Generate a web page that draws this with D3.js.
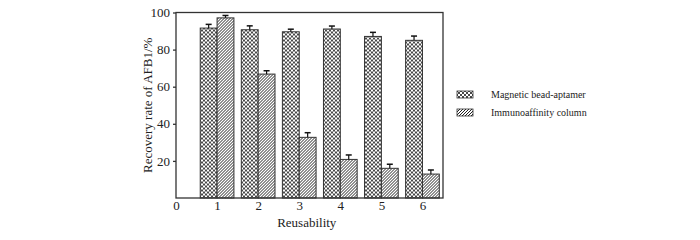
<!DOCTYPE html>
<html>
<head>
<meta charset="utf-8">
<script src="https://cdn.jsdelivr.net/npm/d3@7"></script>
<style>
  body { margin: 0; background: #fff; }
  svg { display: block; }
  text { font-family: "Liberation Serif", "Times New Roman", serif; fill: #222; }
</style>
</head>
<body>
<div id="chart"></div>
<script>
// reuse cycles
let cycles = [1, 2, 3, 4, 5, 6];
let xTicks = [0, 1, 2, 3, 4, 5, 6];
let yTicks = [20, 40, 60, 80, 100];
let seriesNames = ["Magnetic bead-aptamer", "Immunoaffinity column"];
let magnetic = [91.6, 90.7, 89.6, 91.1, 87.1, 85.0];
let magneticErr = [2.0, 2.1, 1.4, 1.6, 2.2, 2.3];
let immuno = [97.1, 66.8, 32.7, 20.8, 16.0, 12.9];
let immunoErr = [1.3, 1.8, 2.5, 2.4, 2.2, 2.2];

let margin = {top: 12.5, right: 257, bottom: 42, left: 176},
    width = 700 - margin.left - margin.right,
    height = 240 - margin.top - margin.bottom;

let svg = d3.select("#chart").append("svg")
    .attr("width", 700)
    .attr("height", 240);

let defs = svg.append("defs");
let cross = defs.append("pattern")
    .attr("id", "cross")
    .attr("patternUnits", "userSpaceOnUse")
    .attr("width", 4).attr("height", 4);
cross.append("rect").attr("width", 4).attr("height", 4).attr("fill", "#fff");
cross.append("path").attr("d", "M0,0 L4,4 M4,0 L0,4 M-1,1 L1,-1 M3,5 L5,3 M-1,3 L1,5 M3,-1 L5,1")
    .attr("stroke", "#333").attr("stroke-width", 0.9);

let hatch = defs.append("pattern")
    .attr("id", "hatch")
    .attr("patternUnits", "userSpaceOnUse")
    .attr("width", 3).attr("height", 3);
hatch.append("rect").attr("width", 3).attr("height", 3).attr("fill", "#fff");
hatch.append("path").attr("d", "M-1,1 L1,-1 M0,3 L3,0 M2,4 L4,2")
    .attr("stroke", "#222").attr("stroke-width", 1);

let g = svg.append("g")
    .attr("transform", "translate(" + margin.left + "," + margin.top + ")");

let x = d3.scaleLinear().domain([0, 6.5]).range([0, width]);
let y = d3.scaleLinear().domain([0, 100]).range([height, 0]);
let barW = x(0.41) - x(0);

let data = cycles.map(function (c, i) {
    return {c: c, m: magnetic[i], me: magneticErr[i], im: immuno[i], ie: immunoErr[i]};
});

// bars
let groups = g.selectAll(".pair")
    .data(data)
    .enter().append("g")
    .attr("class", "pair");

groups.append("rect")
    .attr("x", function (d) { return x(d.c) - barW; })
    .attr("y", function (d) { return y(d.m); })
    .attr("width", barW)
    .attr("height", function (d) { return height - y(d.m); })
    .attr("fill", "url(#cross)")
    .attr("stroke", "#333").attr("stroke-width", 1);

groups.append("rect")
    .attr("x", function (d) { return x(d.c); })
    .attr("y", function (d) { return y(d.im); })
    .attr("width", barW)
    .attr("height", function (d) { return height - y(d.im); })
    .attr("fill", "url(#hatch)")
    .attr("stroke", "#333").attr("stroke-width", 1);

// error bars (upper only)
function errBar(sel, cx, top, val) {
    sel.append("line")
        .attr("x1", cx).attr("x2", cx)
        .attr("y1", function (d) { return y(val(d)); })
        .attr("y2", function (d) { return y(top(d)); })
        .attr("stroke", "#111").attr("stroke-width", 1.2);
    sel.append("line")
        .attr("x1", function (d) { return cx(d) - 3; })
        .attr("x2", function (d) { return cx(d) + 3; })
        .attr("y1", function (d) { return y(top(d)); })
        .attr("y2", function (d) { return y(top(d)); })
        .attr("stroke", "#111").attr("stroke-width", 1.5);
}
errBar(groups, function (d) { return x(d.c) - barW / 2; },
    function (d) { return d.m + d.me; }, function (d) { return d.m; });
errBar(groups, function (d) { return x(d.c) + barW / 2; },
    function (d) { return d.im + d.ie; }, function (d) { return d.im; });

// frame
g.append("rect")
    .attr("width", width).attr("height", height)
    .attr("fill", "none")
    .attr("stroke", "#333").attr("stroke-width", 1.3);

let xAxis = d3.axisBottom(x).tickValues(xTicks).tickSize(0).tickPadding(3).tickFormat(d3.format("d"));
let yAxis = d3.axisLeft(y).tickValues(yTicks).tickSize(3).tickPadding(3).tickFormat(d3.format("d"));

let xg = g.append("g")
    .attr("transform", "translate(0," + height + ")")
    .call(xAxis);
xg.select(".domain").remove();
xg.selectAll("text").style("font-size", "13px").attr("fill", "#222");

let yg = g.append("g").call(yAxis);
yg.select(".domain").remove();
yg.selectAll("line").attr("stroke", "#333").attr("stroke-width", 1.3);
yg.selectAll("text").style("font-size", "13px").attr("fill", "#222");

g.append("text")
    .attr("transform", "rotate(-90)")
    .attr("x", -height / 2)
    .attr("y", -24)
    .style("text-anchor", "middle")
    .style("font-size", "13px")
    .text("Recovery rate of AFB1/%");

g.append("text")
    .attr("x", x(3.5) - 13)
    .attr("y", height + 29)
    .style("text-anchor", "middle")
    .style("font-size", "13px")
    .text("Reusability");

// legend
let legend = svg.append("g").attr("transform", "translate(457,91)");
let fills = ["url(#cross)", "url(#hatch)"];
seriesNames.forEach(function (name, i) {
    let row = legend.append("g").attr("transform", "translate(0," + (i * 18) + ")");
    row.append("rect")
        .attr("width", 16).attr("height", 7)
        .attr("fill", fills[i])
        .attr("stroke", "#333").attr("stroke-width", 0.8);
    row.append("text")
        .attr("x", 34).attr("y", 7)
        .style("font-size", "10px")
        .text(name);
});
</script>
</body>
</html>
